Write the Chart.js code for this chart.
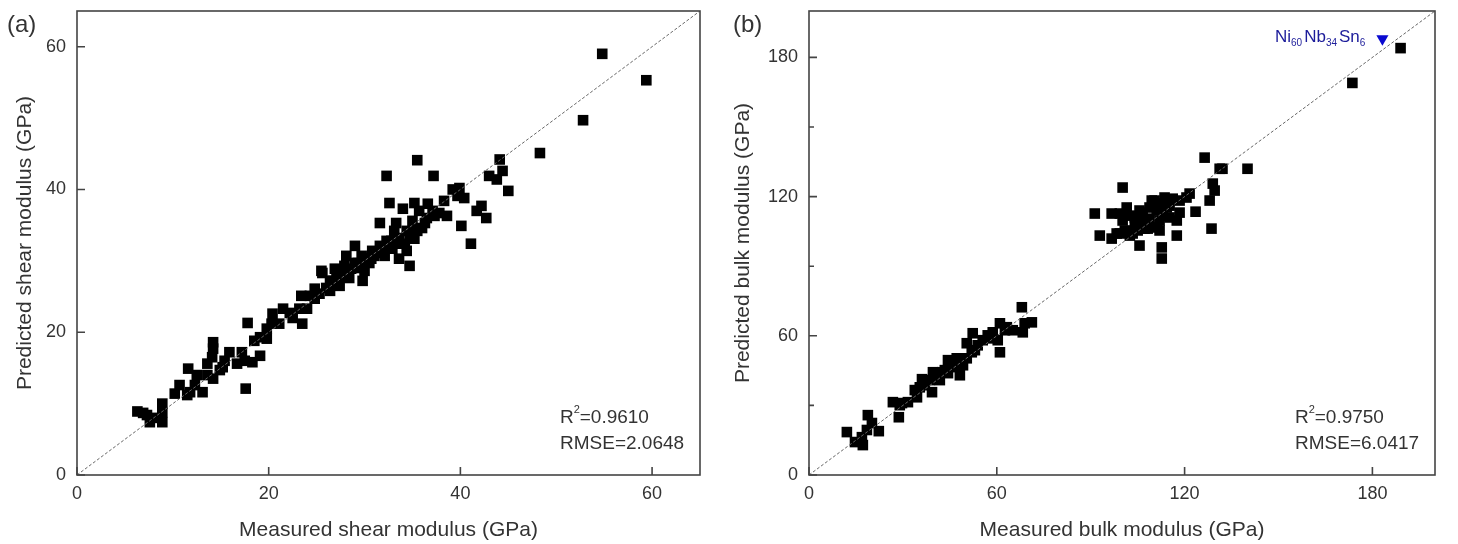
<!DOCTYPE html>
<html>
<head>
<meta charset="utf-8">
<script src="https://cdn.jsdelivr.net/npm/chart.js@4.4.1/dist/chart.umd.min.js"></script>
<style>
  body { margin: 0; background: #fff; }
  #wrap { position: relative; width: 1458px; height: 544px; }
  #left { position: absolute; left: 0; top: 0; }
  #right { position: absolute; left: 729px; top: 0; }
</style>
</head>
<body>
<div id="wrap">
  <canvas id="left" width="729" height="544"></canvas>
  <canvas id="right" width="729" height="544"></canvas>
</div>
<script>
// (a) shear modulus, GPa
const shearMeasured = [6.3, 6.9, 7.3, 7.6, 7.8, 8.9, 8.9, 8.9, 10.2, 10.7, 11.5, 11.8, 11.6, 12.5, 13.1, 13.6, 14.2, 13.6, 14.1, 14.2,
    14.2, 15.2, 15.4, 15.9, 16.7, 17.2, 17.5, 18.3, 19.1, 17.6, 17.8, 19.1, 19.8, 19.8, 20.3, 20.4, 21.1, 21.5, 22.5, 23.2,
    23.5, 24.0, 23.4, 24.3, 25.3, 25.6, 26.0, 26.7, 27.1, 25.5, 27.1, 28.4, 28.1, 29.0, 29.5, 29.8, 30.2, 30.8, 31.6, 32.3,
    32.8, 33.6, 34.4, 35.2, 34.4, 33.6, 34.7, 31.6, 33.3, 35.0, 36.0, 34.0, 32.6, 35.2, 36.6, 37.1, 36.5, 38.6, 40.1, 41.1,
    41.7, 42.2, 42.7, 39.2, 39.9, 39.7, 40.4, 35.5, 32.3, 37.2, 44.1, 44.4, 43.0, 43.8, 45.0, 48.3, 52.8, 54.8, 59.4, 27.4,
    27.9, 29.0, 29.7, 30.5, 31.0, 31.9, 32.6, 33.1, 35.7, 37.8, 38.3, 26.4, 24.8, 22.2, 18.5, 14.9, 12.3,
    27.9, 28.6, 29.3, 30.0, 30.7, 31.4, 32.1, 32.9, 33.4, 34.2, 34.7, 35.5, 36.3, 37.3, 26.4, 26.9, 24.8];
const shearPredicted = [8.9, 8.7, 8.4, 7.4, 8.0, 7.4, 10.0, 8.8, 11.4, 12.6, 11.2, 11.6, 14.9, 14.0, 11.6, 14.0, 13.5, 15.6, 16.5, 18.6,
    17.7, 15.1, 16.0, 17.2, 15.6, 17.2, 16.0, 15.8, 16.7, 12.1, 21.3, 19.3, 19.1, 20.5, 21.2, 22.6, 21.2, 23.3, 22.0, 23.3,
    21.2, 23.3, 25.1, 25.1, 25.4, 28.3, 26.2, 27.2, 28.2, 28.6, 27.6, 27.6, 30.7, 32.1, 29.0, 27.2, 30.3, 31.4, 32.1, 32.8,
    32.8, 33.2, 34.2, 33.1, 31.4, 30.3, 29.3, 35.3, 35.3, 35.6, 34.6, 37.3, 38.1, 38.1, 38.0, 37.0, 36.0, 36.3, 34.9, 32.4,
    37.0, 37.7, 36.0, 40.0, 40.2, 39.1, 38.8, 44.1, 41.9, 41.9, 44.2, 42.6, 41.9, 41.4, 39.8, 45.1, 49.7, 59.0, 55.3, 26.5,
    29.3, 29.7, 30.7, 29.7, 30.7, 31.4, 32.1, 34.2, 37.0, 36.7, 38.4, 25.8, 24.7, 22.7, 18.8, 14.7, 12.6,
    27.9, 28.9, 29.7, 28.6, 30.3, 31.1, 30.7, 31.7, 32.4, 32.4, 33.5, 34.2, 35.3, 36.3, 27.2, 28.9, 26.1];

// (b) bulk modulus, GPa
const bulkMeasured = [12.1, 14.7, 17.2, 16.9, 18.8, 20.1, 22.3, 18.5, 28.7, 26.8, 29.7, 31.6, 34.5, 33.8, 36.1, 35.4, 39.3, 39.6, 38.6, 41.8,
    42.5, 44.4, 44.4, 46.6, 47.2, 48.2, 49.2, 50.4, 50.4, 52.3, 52.0, 53.9, 55.5, 57.1, 58.7, 61.0, 60.3, 61.0, 63.2, 65.1,
    68.3, 68.0, 71.2, 68.9, 29.0, 37.0, 43.4, 48.2, 53.0, 57.8, 62.6,
    126.4, 131.2, 132.1, 140.1, 129.0, 129.6, 128.0, 128.6, 121.6, 123.5, 100.2, 91.3, 92.9, 96.7, 96.7, 99.3, 101.5, 100.2, 99.3, 102.5,
    104.1, 106.3, 106.6, 105.0, 108.2, 105.6, 109.5, 111.1, 112.0, 112.0, 112.7, 112.7, 113.6, 114.3, 115.2, 117.5, 117.5, 118.4, 118.4, 116.2,
    114.6, 111.4, 108.8, 107.9, 111.1, 113.0, 120.6, 103.4, 98.3,
    102.5, 105.6, 108.8, 110.4, 113.0, 107.2, 104.1, 115.2, 100.9,
    189.0, 173.6];
const bulkPredicted = [18.5, 14.2, 12.9, 16.3, 25.8, 22.4, 18.9, 19.4, 24.9, 31.4, 31.0, 31.4, 33.5, 36.6, 41.3, 37.8, 35.7, 44.3, 40.9, 40.9,
    44.3, 49.5, 43.9, 46.5, 50.3, 43.0, 47.3, 50.3, 56.8, 61.1, 52.9, 55.9, 58.1, 60.2, 61.5, 65.4, 58.1, 52.9, 63.7, 62.4,
    61.5, 72.3, 65.8, 65.4, 30.1, 38.7, 45.2, 48.6, 53.8, 58.9, 62.4,
    136.8, 132.0, 132.0, 132.0, 125.6, 122.6, 118.3, 106.2, 121.3, 113.5, 123.9, 112.7, 103.2, 101.9, 112.7, 112.7, 115.3, 109.7, 104.1, 103.2,
    111.0, 109.7, 113.1, 105.4, 106.2, 98.9, 118.3, 114.0, 109.7, 105.4, 98.1, 93.3, 119.6, 115.3, 111.0, 103.2, 109.7, 113.1, 118.3, 119.1,
    117.4, 117.0, 115.3, 108.4, 106.7, 114.8, 119.6, 104.1, 104.1,
    111.8, 114.0, 110.5, 118.3, 111.8, 106.2, 107.5, 116.1, 105.4,
    184.0, 169.0];

// highlighted alloy in (b)
const alloyMeasured = [183.2];
const alloyPredicted = [188.0];

const shearTicks = [0, 20, 40, 60];
const bulkTicks = [0, 60, 120, 180];
const bulkMinorY = [30, 90, 150];

const ink = '#333';
const fam = '"Liberation Sans", Arial, sans-serif';

function pts(xs, ys) {
    return xs.map((v, i) => ({ x: v, y: ys[i] }));
}

// frame, inward ticks and text notes
const framePlugin = {
    id: 'frame',
    afterDatasetsDraw(chart, args, o) {
        const { ctx, chartArea: a } = chart;
        const x = chart.scales.x, y = chart.scales.y;
        ctx.save();
        ctx.strokeStyle = '#444';
        ctx.lineWidth = 1.6;
        ctx.strokeRect(a.left, a.top, a.right - a.left, a.bottom - a.top);
        ctx.beginPath();
        o.ticks.forEach(v => {
            const px = x.getPixelForValue(v);
            ctx.moveTo(px, a.bottom); ctx.lineTo(px, a.bottom - 8);
            const py = y.getPixelForValue(v);
            ctx.moveTo(a.left, py); ctx.lineTo(a.left + 8, py);
        });
        (o.minorY || []).forEach(v => {
            const py = y.getPixelForValue(v);
            ctx.moveTo(a.left, py); ctx.lineTo(a.left + 5, py);
        });
        ctx.stroke();

        // panel letter
        ctx.fillStyle = ink;
        ctx.font = '24px ' + fam;
        ctx.textBaseline = 'alphabetic';
        ctx.fillText(o.letter, o.letterX, 32);

        // R2 / RMSE
        const tx = a.right - 140;
        ctx.font = '19px ' + fam;
        ctx.fillText('R', tx, 423);
        const rw = ctx.measureText('R').width;
        ctx.font = '11px ' + fam;
        ctx.fillText('2', tx + rw, 413);
        ctx.font = '19px ' + fam;
        ctx.fillText('=' + o.r2, tx + rw + 6, 423);
        ctx.fillText('RMSE=' + o.rmse, tx, 449);

        if (o.alloy) {
            let cx = a.right - 160;
            const base = 42;
            ctx.fillStyle = '#1c1c9a';
            o.alloy.forEach(([el, sub]) => {
                ctx.font = '17px ' + fam;
                ctx.fillText(el, cx, base);
                cx += ctx.measureText(el).width;
                ctx.font = '10px ' + fam;
                ctx.fillText(sub, cx, base + 4);
                cx += ctx.measureText(sub).width + 2;
            });
        }
        ctx.restore();
    }
};

function makeChart(id, cfg) {
    const ctx = document.getElementById(id).getContext('2d');
    const datasets = [
        {
            data: pts([0, cfg.max], [0, cfg.max]),
            showLine: true,
            borderColor: '#666',
            borderWidth: 1,
            borderDash: [3, 2],
            pointRadius: 0
        },
        {
            data: pts(cfg.xs, cfg.ys),
            pointStyle: 'rect',
            pointRadius: 7.5,
            backgroundColor: '#000',
            borderColor: '#000',
            borderWidth: 0
        }
    ];
    if (cfg.extra) {
        datasets.push({
            data: cfg.extra,
            pointStyle: 'triangle',
            rotation: 180,
            pointRadius: 7,
            backgroundColor: '#0a0ad0',
            borderColor: '#0a0ad0',
            borderWidth: 0
        });
    }
    return new Chart(ctx, {
        type: 'scatter',
        data: { datasets: datasets },
        options: {
            responsive: false,
            animation: false,
            events: [],
            layout: { padding: { top: 11, right: cfg.padRight, left: 0, bottom: 0 } },
            plugins: {
                legend: { display: false },
                tooltip: { enabled: false },
                frame: cfg.frame
            },
            scales: {
                x: {
                    type: 'linear',
                    min: 0,
                    max: cfg.max,
                    grid: { display: false, drawTicks: false },
                    border: { display: false },
                    afterBuildTicks: s => { s.ticks = cfg.ticks.map(v => ({ value: v })); },
                    afterFit: s => { s.height = 69; s.paddingLeft = 0; s.paddingRight = 0; },
                    ticks: { color: ink, font: { family: fam, size: 18 }, padding: 8 },
                    title: {
                        display: true,
                        text: cfg.xTitle,
                        color: ink,
                        font: { family: fam, size: 21 },
                        padding: { top: 0, bottom: 1 }
                    }
                },
                y: {
                    type: 'linear',
                    min: 0,
                    max: cfg.max,
                    grid: { display: false, drawTicks: false },
                    border: { display: false },
                    afterBuildTicks: s => { s.ticks = cfg.ticks.map(v => ({ value: v })); },
                    afterFit: s => { s.width = cfg.yWidth; s.paddingTop = 0; s.paddingBottom = 0; },
                    ticks: { color: ink, font: { family: fam, size: 18 }, padding: 11 },
                    title: {
                        display: true,
                        text: cfg.yTitle,
                        color: ink,
                        font: { family: fam, size: 21 },
                        padding: { top: cfg.yTitlePad, bottom: 0 }
                    }
                }
            }
        },
        plugins: [framePlugin]
    });
}

makeChart('left', {
    xs: shearMeasured, ys: shearPredicted, max: 65, ticks: shearTicks,
    yWidth: 77, padRight: 29, yTitlePad: 13,
    xTitle: 'Measured shear modulus (GPa)',
    yTitle: 'Predicted shear modulus (GPa)',
    frame: { ticks: shearTicks, letter: '(a)', letterX: 7, r2: '0.9610', rmse: '2.0648' }
});

makeChart('right', {
    xs: bulkMeasured, ys: bulkPredicted, max: 200, ticks: bulkTicks,
    extra: pts(alloyMeasured, alloyPredicted),
    yWidth: 80, padRight: 23, yTitlePad: 2,
    xTitle: 'Measured bulk modulus (GPa)',
    yTitle: 'Predicted bulk modulus (GPa)',
    frame: {
        ticks: bulkTicks, minorY: bulkMinorY, letter: '(b)', letterX: 4, r2: '0.9750', rmse: '6.0417',
        alloy: [['Ni', '60'], ['Nb', '34'], ['Sn', '6']]
    }
});
</script>
</body>
</html>
